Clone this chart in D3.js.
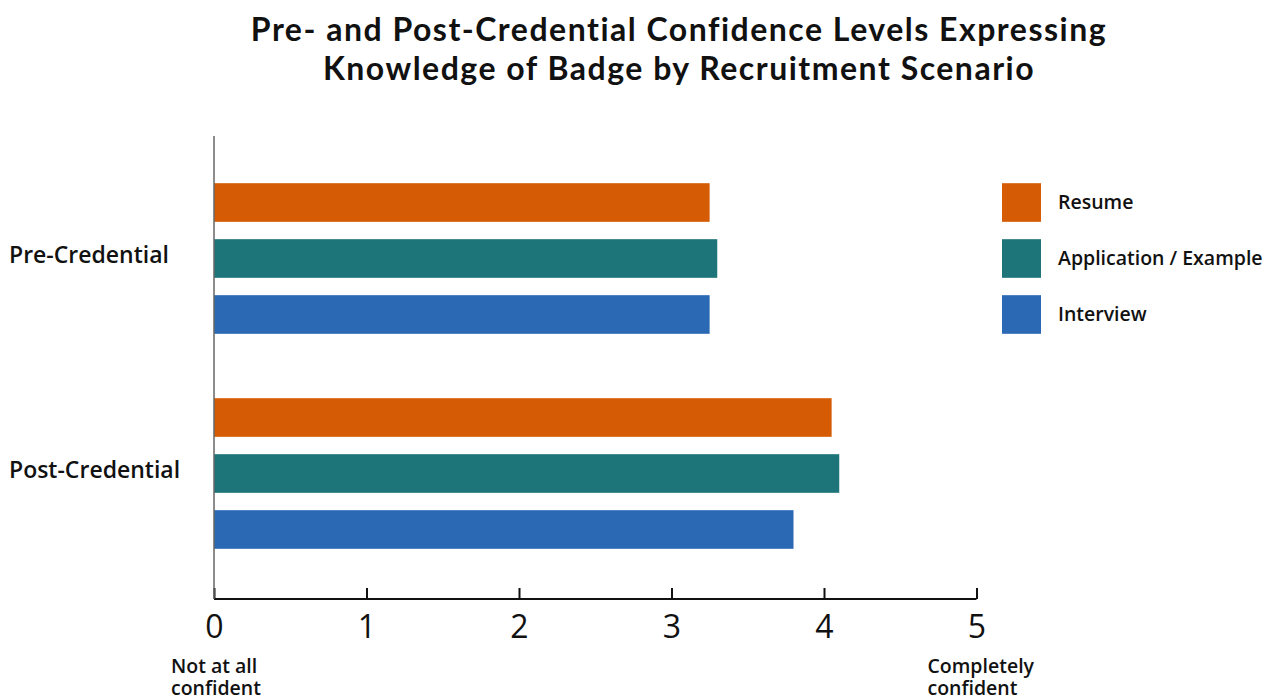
<!DOCTYPE html>
<html>
<head>
<meta charset="utf-8">
<script src="https://cdn.jsdelivr.net/npm/d3@7"></script>
<style>
  body { margin: 0; background: #fff; }
  svg text { fill: #111; }
</style>
</head>
<body>
<svg id="chart" width="1273" height="698"></svg>
<script>
const groups = ["Pre-Credential", "Post-Credential"];
const series = ["Resume", "Application / Example", "Interview"];
const colors = ["#D55C05", "#1D7479", "#2B69B4"];
const preValues = [3.25, 3.3, 3.25];
const postValues = [4.05, 4.1, 3.8];
const tickValues = [0, 1, 2, 3, 4, 5];

const values = { "Pre-Credential": preValues, "Post-Credential": postValues };

const svg = d3.select("#chart");

// title
const title = svg.append("text")
  .attr("text-anchor", "middle")
  .style("font-family", "Lato, sans-serif")
  .style("font-weight", "bold")
  .style("font-size", "32px")
  .style("letter-spacing", "1.5px");
title.append("tspan").attr("x", 679).attr("y", 41).text("Pre- and Post-Credential Confidence Levels Expressing");
title.append("tspan").attr("x", 679).attr("y", 80).text("Knowledge of Badge by Recruitment Scenario");

const x = d3.scaleLinear().domain([0, 5]).range([214, 976.5]);

const y0 = d3.scaleBand().domain(groups).range([151, 581]);
const y1 = d3.scaleBand().domain(series).range([0, y0.bandwidth()])
  .paddingInner(0.31).paddingOuter(0.575);
const color = d3.scaleOrdinal().domain(series).range(colors);

// bars
const g = svg.selectAll(".group")
  .data(groups)
  .enter()
  .append("g")
  .attr("class", "group")
  .attr("transform", (d) => `translate(0,${y0(d)})`);

g.selectAll("rect")
  .data((grp) => series.map((s, i) => ({ s: s, v: values[grp][i] })))
  .enter()
  .append("rect")
  .attr("x", x(0))
  .attr("y", (d) => y1(d.s))
  .attr("width", (d) => x(d.v) - x(0))
  .attr("height", y1.bandwidth())
  .attr("fill", (d) => color(d.s));

// group labels
svg.selectAll(".glabel")
  .data(groups)
  .enter()
  .append("text")
  .attr("class", "glabel")
  .attr("x", 9)
  .attr("y", (d) => y0(d) + y0.bandwidth() / 2 - 4)
  .attr("dy", "0.35em")
  .style("font-family", "'Open Sans', sans-serif")
  .style("font-weight", 600)
  .style("font-size", "23px")
  .text((d) => d);

// x axis
const axis = svg.append("g")
  .attr("transform", "translate(0,599)")
  .call(d3.axisBottom(x).tickValues(tickValues).tickSize(11).tickSizeOuter(0).tickFormat(d3.format("d")));
axis.select(".domain").attr("stroke", "#111").attr("stroke-width", 2).attr("d", `M${x(0)},0H${x(5)}`);
axis.selectAll(".tick line").attr("y2", -11).attr("stroke", "#111").attr("stroke-width", 2);
axis.selectAll(".tick text")
  .attr("y", 39)
  .attr("dy", 0)
  .style("font-family", "'Open Sans', sans-serif")
  .style("font-size", "32px")
  .attr("fill", "#111");

// y axis line
svg.append("line")
  .attr("x1", x(0)).attr("x2", x(0))
  .attr("y1", 136).attr("y2", 599)
  .attr("stroke", "#666")
  .attr("stroke-width", 1.5);

// scale end labels
const ends = [
  { v: 0, dx: -43, lines: ["Not at all", "confident"] },
  { v: 5, dx: -49, lines: ["Completely", "confident"] }
];
ends.forEach((e) => {
  const t = svg.append("text")
    .style("font-family", "'Open Sans', sans-serif")
    .style("font-weight", 600)
    .style("font-size", "19.5px");
  e.lines.forEach((l, i) => {
    t.append("tspan").attr("x", x(e.v) + e.dx).attr("y", 673 + i * 22).text(l);
  });
});

// legend
const legend = svg.selectAll(".legend")
  .data(series)
  .enter()
  .append("g")
  .attr("class", "legend")
  .attr("transform", (d) => `translate(1002,${y0(groups[0]) + y1(d)})`);
legend.append("rect")
  .attr("width", 39)
  .attr("height", y1.bandwidth())
  .attr("fill", (d) => color(d));
legend.append("text")
  .attr("x", 56)
  .attr("y", y1.bandwidth() / 2)
  .attr("dy", "0.35em")
  .style("font-family", "'Open Sans', sans-serif")
  .style("font-weight", 600)
  .style("font-size", "19.5px")
  .text((d) => d);
</script>
</body>
</html>
